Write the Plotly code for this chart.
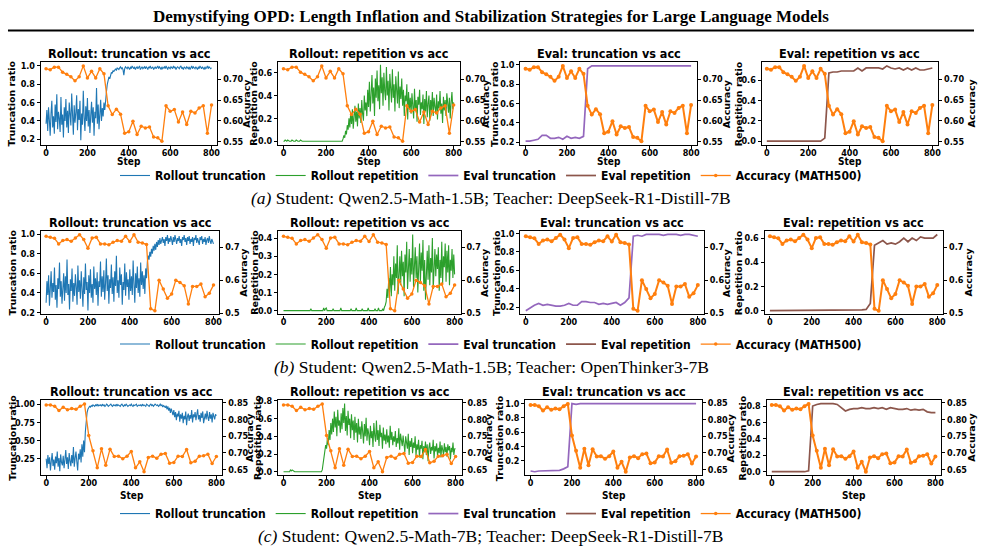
import plotly.graph_objects as go

# ---------------- data ----------------
steps_rollout = list(range(0, 801, 4))
steps_eval = list(range(0, 801, 20))

# (a) Student: Qwen2.5-Math-1.5B; Teacher: DeepSeek-R1-Distill-7B
rollout_trunc_a = [
    0.37, 0.52, 0.29, 0.55, 0.41, 0.24, 0.48, 0.62, 0.33, 0.45,
    0.26, 0.58, 0.39, 0.69, 0.31, 0.50, 0.43, 0.28, 0.66, 0.36,
    0.47, 0.22, 0.55, 0.40, 0.64, 0.33, 0.51, 0.27, 0.60, 0.44,
    0.35, 0.70, 0.42, 0.25, 0.57, 0.38, 0.49, 0.68, 0.30, 0.53,
    0.41, 0.62, 0.19, 0.48, 0.36, 0.73, 0.44, 0.29, 0.56, 0.40,
    0.65, 0.34, 0.52, 0.27, 0.46, 0.61, 0.38, 0.55, 0.24, 0.50,
    0.43, 0.76, 0.37, 0.58, 0.31, 0.49, 0.63, 0.40, 0.54, 0.45,
    0.60, 0.52, 0.66, 0.72, 0.80, 0.84, 0.88, 0.86, 0.91, 0.93,
    0.92, 0.95, 0.94, 0.96, 0.97, 0.95, 0.98, 0.97, 0.96, 0.98,
    0.99, 0.97, 0.98, 0.96, 0.90, 0.97, 0.99, 0.98, 0.97, 0.99,
    0.98, 0.96, 0.99, 0.97, 1.00, 0.98, 0.97, 0.99, 0.96, 0.98,
    0.99, 0.97, 0.98, 1.00, 0.96, 0.98, 0.99, 0.97, 0.98, 0.99,
    0.97, 0.99, 0.98, 0.96, 0.99, 0.98, 1.00, 0.97, 0.98, 0.99,
    0.96, 0.98, 0.99, 0.97, 0.98, 1.00, 0.97, 0.99, 0.98, 0.96,
    0.99, 0.97, 0.98, 0.99, 0.97, 1.00, 0.98, 0.96, 0.99, 0.98,
    0.97, 0.99, 0.98, 0.97, 1.00, 0.98, 0.99, 0.96, 0.98, 0.99,
    0.98, 0.97, 0.99, 1.00, 0.97, 0.98, 0.96, 0.99, 0.98, 0.97,
    0.99, 0.98, 0.97, 0.99, 0.96, 0.98, 1.00, 0.97, 0.99, 0.98,
    0.97, 0.99, 0.98, 0.96, 0.99, 0.97, 1.00, 0.98, 0.97, 0.99,
    0.98, 0.96, 0.99, 0.97, 0.98, 1.00, 0.97, 0.99, 0.98, 0.97,
    0.98]
rollout_rep_a = [
    0.0, 0.0, 0.01, 0.0, 0.0, 0.01, 0.0, 0.0, 0.0, 0.0,
    0.01, 0.0, 0.0, 0.0, 0.0, 0.01, 0.0, 0.0, 0.0, 0.0,
    0.01, 0.0, 0.0, 0.0, 0.0, 0.0, 0.0, 0.0, 0.0, 0.0,
    0.0, 0.0, 0.0, 0.0, 0.0, 0.0, 0.0, 0.0, 0.0, 0.0,
    0.0, 0.0, 0.0, 0.0, 0.0, 0.0, 0.0, 0.0, 0.0, 0.0,
    0.0, 0.0, 0.0, 0.0, 0.0, 0.0, 0.0, 0.0, 0.0, 0.0,
    0.0, 0.0, 0.0, 0.0, 0.0, 0.0, 0.0, 0.0, 0.0, 0.0,
    0.02, 0.05, 0.03, 0.09, 0.06, 0.14, 0.10, 0.20, 0.12, 0.25,
    0.15, 0.28, 0.11, 0.22, 0.31, 0.17, 0.26, 0.13, 0.33, 0.20,
    0.29, 0.16, 0.36, 0.24, 0.18, 0.40, 0.27, 0.34, 0.22, 0.45,
    0.30, 0.52, 0.26, 0.41, 0.58, 0.33, 0.47, 0.22, 0.55, 0.38,
    0.62, 0.35, 0.49, 0.28, 0.67, 0.42, 0.56, 0.31, 0.60, 0.44,
    0.36, 0.65, 0.40, 0.53, 0.27, 0.59, 0.45, 0.34, 0.63, 0.38,
    0.50, 0.26, 0.57, 0.41, 0.33, 0.61, 0.29, 0.48, 0.37, 0.55,
    0.31, 0.45, 0.22, 0.40, 0.35, 0.50, 0.19, 0.43, 0.28, 0.38,
    0.24, 0.42, 0.30, 0.20, 0.46, 0.27, 0.36, 0.17, 0.39, 0.32,
    0.45, 0.23, 0.34, 0.28, 0.41, 0.15, 0.37, 0.26, 0.44, 0.21,
    0.33, 0.40, 0.18, 0.36, 0.27, 0.43, 0.22, 0.38, 0.30, 0.25,
    0.41, 0.19, 0.35, 0.29, 0.44, 0.24, 0.33, 0.16, 0.39, 0.27,
    0.36, 0.22, 0.42, 0.30, 0.25, 0.38, 0.20, 0.34, 0.43, 0.28,
    0.34]
eval_trunc_a = [
    0.21, 0.21, 0.22, 0.23, 0.27, 0.27, 0.24, 0.24, 0.25, 0.23,
    0.26, 0.24, 0.25, 0.24, 0.26, 0.96, 0.99, 0.99, 0.99, 0.99,
    0.99, 0.99, 0.99, 0.99, 0.99, 0.99, 0.99, 0.99, 0.99, 0.99,
    0.99, 0.99, 0.99, 0.99, 0.99, 0.99, 0.99, 0.99, 0.99, 0.99,
    0.99]
eval_rep_a = [
    0.0, 0.0, 0.0, 0.002, 0.002, 0.002, 0.001, 0.0, 0.0, 0.0,
    0.0, 0.0, 0.0, 0.0, 0.03, 0.67, 0.68, 0.68, 0.69, 0.69,
    0.69, 0.69, 0.72, 0.69, 0.72, 0.72, 0.72, 0.72, 0.71, 0.74,
    0.72, 0.71, 0.72, 0.70, 0.72, 0.70, 0.72, 0.70, 0.70, 0.71,
    0.72]
acc_a = [
    0.725, 0.723, 0.729, 0.729, 0.717, 0.712, 0.706, 0.696, 0.706, 0.732,
    0.703, 0.719, 0.703, 0.725, 0.713, 0.636, 0.615, 0.628, 0.616, 0.570,
    0.574, 0.599, 0.567, 0.587, 0.583, 0.585, 0.561, 0.559, 0.551, 0.636,
    0.623, 0.627, 0.597, 0.621, 0.591, 0.623, 0.619, 0.631, 0.636, 0.570,
    0.638]

# (b) Student: Qwen2.5-Math-1.5B; Teacher: OpenThinker3-7B
rollout_trunc_b = [
    0.30, 0.52, 0.38, 0.58, 0.27, 0.46, 0.62, 0.35, 0.50, 0.41,
    0.66, 0.33, 0.48, 0.25, 0.55, 0.44, 0.71, 0.36, 0.52, 0.29,
    0.45, 0.60, 0.32, 0.57, 0.40, 0.74, 0.38, 0.49, 0.23, 0.54,
    0.42, 0.65, 0.31, 0.50, 0.37, 0.59, 0.46, 0.28, 0.68, 0.41,
    0.53, 0.34, 0.62, 0.45, 0.26, 0.56, 0.39, 0.70, 0.43, 0.51,
    0.22, 0.58, 0.40, 0.64, 0.35, 0.49, 0.30, 0.67, 0.44, 0.55,
    0.38, 0.61, 0.27, 0.52, 0.46, 0.72, 0.36, 0.57, 0.41, 0.63,
    0.33, 0.50, 0.75, 0.42, 0.58, 0.29, 0.54, 0.45, 0.69, 0.39,
    0.56, 0.31, 0.62, 0.47, 0.78, 0.40, 0.53, 0.35, 0.66, 0.48,
    0.59, 0.28, 0.51, 0.43, 0.70, 0.37, 0.61, 0.46, 0.54, 0.33,
    0.64, 0.42, 0.57, 0.38, 0.73, 0.49, 0.30, 0.60, 0.45, 0.67,
    0.40, 0.55, 0.36, 0.71, 0.48, 0.62, 0.44, 0.58, 0.39, 0.65,
    0.55, 0.72, 0.78, 0.74, 0.82, 0.77, 0.85, 0.80, 0.88, 0.83,
    0.90, 0.84, 0.92, 0.87, 0.94, 0.89, 0.96, 0.90, 0.93, 0.97,
    0.91, 0.95, 0.88, 0.97, 0.93, 0.99, 0.90, 0.96, 0.92, 0.98,
    0.94, 0.89, 0.97, 0.92, 0.99, 0.95, 0.90, 0.96, 0.93, 0.98,
    0.91, 0.95, 0.88, 0.97, 0.94, 0.99, 0.92, 0.96, 0.89, 0.97,
    0.93, 0.98, 0.90, 0.95, 0.92, 0.97, 0.88, 0.96, 0.94, 0.99,
    0.91, 0.96, 0.93, 0.89, 0.97, 0.94, 0.98, 0.90, 0.95, 0.92,
    0.97, 0.89, 0.94, 0.96, 0.91, 0.98, 0.93, 0.90, 0.95, 0.92,
    0.90]
rollout_rep_b = [
    0.0, 0.0, 0.0, 0.0, 0.0, 0.0, 0.0, 0.0, 0.0, 0.0,
    0.0, 0.0, 0.0, 0.0, 0.0, 0.0, 0.0, 0.0, 0.0, 0.0,
    0.0, 0.0, 0.0, 0.0, 0.0, 0.0, 0.0, 0.0, 0.0, 0.0,
    0.0, 0.0, 0.01, 0.0, 0.0, 0.0, 0.0, 0.0, 0.0, 0.0,
    0.0, 0.0, 0.0, 0.0, 0.0, 0.0, 0.0, 0.015, 0.0, 0.01,
    0.015, 0.0, 0.0, 0.0, 0.0, 0.0, 0.0, 0.0, 0.01, 0.0,
    0.0, 0.0, 0.0, 0.0, 0.0, 0.0, 0.0, 0.015, 0.0, 0.0,
    0.0, 0.0, 0.0, 0.0, 0.0, 0.0, 0.0, 0.0, 0.0, 0.01,
    0.0, 0.0, 0.0, 0.0, 0.0, 0.015, 0.0, 0.0, 0.0, 0.0,
    0.0, 0.0, 0.01, 0.0, 0.0, 0.0, 0.0, 0.0, 0.0, 0.015,
    0.0, 0.0, 0.0, 0.0, 0.0, 0.0, 0.0, 0.01, 0.0, 0.0,
    0.0, 0.015, 0.0, 0.0, 0.0, 0.0, 0.01, 0.0, 0.02, 0.03,
    0.05, 0.12, 0.07, 0.18, 0.10, 0.24, 0.08, 0.20, 0.14, 0.30,
    0.11, 0.26, 0.18, 0.36, 0.09, 0.22, 0.30, 0.14, 0.33, 0.19,
    0.27, 0.08, 0.31, 0.21, 0.38, 0.12, 0.25, 0.34, 0.16, 0.29,
    0.20, 0.42, 0.13, 0.27, 0.35, 0.18, 0.30, 0.10, 0.26, 0.37,
    0.15, 0.32, 0.22, 0.39, 0.11, 0.28, 0.06, 0.24, 0.33, 0.17,
    0.36, 0.14, 0.29, 0.21, 0.40, 0.12, 0.27, 0.34, 0.19, 0.31,
    0.23, 0.35, 0.11, 0.28, 0.18, 0.38, 0.15, 0.30, 0.24, 0.37,
    0.16, 0.33, 0.21, 0.36, 0.14, 0.28, 0.22, 0.34, 0.18, 0.31,
    0.20]
eval_trunc_b = [
    0.16, 0.19, 0.22, 0.24, 0.22, 0.23, 0.22, 0.21, 0.21, 0.22,
    0.24, 0.22, 0.22, 0.26, 0.26, 0.25, 0.25, 0.23, 0.24, 0.23,
    0.24, 0.25, 0.22, 0.25, 0.30, 0.97, 0.98, 0.97, 0.99, 0.99,
    0.99, 0.99, 0.98, 0.99, 0.99, 0.99, 0.98, 0.99, 0.99, 0.98,
    0.97]
eval_rep_b = [
    0.0, 0.0, 0.002, 0.004, 0.004, 0.006, 0.004, 0.002, 0.002, 0.002,
    0.004, 0.004, 0.004, 0.002, 0.002, 0.002, 0.004, 0.004, 0.004, 0.006,
    0.004, 0.004, 0.006, 0.01, 0.06, 0.54, 0.56, 0.58, 0.55, 0.56,
    0.55, 0.57, 0.60, 0.57, 0.60, 0.58, 0.61, 0.60, 0.60, 0.60,
    0.63]
acc_b = [
    0.733, 0.730, 0.727, 0.710, 0.720, 0.723, 0.718, 0.728, 0.738, 0.723,
    0.697, 0.728, 0.730, 0.710, 0.710, 0.707, 0.715, 0.720, 0.718, 0.733,
    0.717, 0.738, 0.715, 0.713, 0.708, 0.513, 0.507, 0.600, 0.573, 0.545,
    0.558, 0.600, 0.593, 0.583, 0.528, 0.581, 0.581, 0.588, 0.550, 0.560,
    0.585]

# (c) Student: Qwen2.5-Math-7B; Teacher: DeepSeek-R1-Distill-7B
rollout_trunc_c = [
    0.25, 0.12, 0.30, 0.18, 0.27, 0.09, 0.22, 0.33, 0.15, 0.24,
    0.10, 0.28, 0.19, 0.35, 0.14, 0.26, 0.08, 0.31, 0.20, 0.16,
    0.29, 0.12, 0.24, 0.37, 0.18, 0.27, 0.11, 0.33, 0.22, 0.15,
    0.30, 0.19, 0.41, 0.14, 0.26, 0.35, 0.21, 0.09, 0.32, 0.24,
    0.38, 0.20, 0.45, 0.28, 0.50, 0.34, 0.62, 0.78, 0.88, 0.93,
    0.95, 0.97, 0.96, 0.98, 0.97, 0.99, 0.98, 0.97, 0.99, 0.98,
    1.00, 0.97, 0.99, 0.98, 0.99, 0.97, 1.00, 0.98, 0.99, 0.97,
    0.98, 1.00, 0.99, 0.97, 0.98, 0.99, 1.00, 0.98, 0.97, 0.99,
    0.98, 0.99, 0.97, 1.00, 0.98, 0.99, 0.98, 0.97, 0.99, 1.00,
    0.98, 0.97, 0.99, 0.98, 1.00, 0.99, 0.97, 0.98, 0.99, 0.98,
    1.00, 0.98, 0.97, 0.99, 0.98, 0.99, 1.00, 0.97, 0.98, 0.99,
    0.98, 0.99, 0.97, 1.00, 0.98, 0.99, 0.98, 0.97, 1.00, 0.99,
    0.98, 0.97, 0.99, 1.00, 0.98, 0.99, 0.97, 0.98, 1.00, 0.99,
    0.98, 0.99, 0.97, 0.98, 1.00, 0.98, 0.99, 0.96, 0.98, 0.97,
    0.95, 0.98, 0.93, 0.97, 0.91, 0.95, 0.88, 0.94, 0.90, 0.85,
    0.92, 0.82, 0.89, 0.78, 0.87, 0.83, 0.91, 0.76, 0.86, 0.80,
    0.88, 0.74, 0.84, 0.79, 0.90, 0.71, 0.83, 0.87, 0.77, 0.85,
    0.80, 0.92, 0.75, 0.86, 0.82, 0.89, 0.78, 0.84, 0.93, 0.79,
    0.85, 0.76, 0.88, 0.81, 0.90, 0.74, 0.84, 0.87, 0.79, 0.91,
    0.82, 0.77, 0.89, 0.80, 0.86, 0.75, 0.88, 0.83, 0.79, 0.86,
    0.84]
rollout_rep_c = [
    0.0, 0.0, 0.0, 0.0, 0.0, 0.0, 0.0, 0.0, 0.02, 0.01,
    0.02, 0.01, 0.0, 0.0, 0.0, 0.0, 0.0, 0.0, 0.0, 0.0,
    0.0, 0.0, 0.0, 0.0, 0.0, 0.0, 0.0, 0.0, 0.0, 0.0,
    0.0, 0.0, 0.0, 0.0, 0.0, 0.0, 0.0, 0.0, 0.0, 0.0,
    0.0, 0.0, 0.0, 0.0, 0.0, 0.02, 0.08, 0.14, 0.22, 0.30,
    0.26, 0.38, 0.30, 0.47, 0.36, 0.55, 0.42, 0.60, 0.45, 0.68,
    0.50, 0.62, 0.40, 0.70, 0.52, 0.58, 0.44, 0.66, 0.48, 0.72,
    0.55, 0.77, 0.46, 0.63, 0.41, 0.69, 0.53, 0.60, 0.38, 0.65,
    0.47, 0.58, 0.36, 0.62, 0.44, 0.55, 0.33, 0.60, 0.42, 0.51,
    0.37, 0.57, 0.45, 0.32, 0.54, 0.40, 0.61, 0.35, 0.49, 0.43,
    0.30, 0.52, 0.38, 0.46, 0.28, 0.55, 0.41, 0.34, 0.58, 0.36,
    0.47, 0.29, 0.53, 0.39, 0.44, 0.26, 0.50, 0.35, 0.42, 0.31,
    0.48, 0.33, 0.41, 0.27, 0.52, 0.36, 0.45, 0.30, 0.40, 0.34,
    0.46, 0.28, 0.38, 0.32, 0.49, 0.25, 0.43, 0.35, 0.29, 0.41,
    0.34, 0.22, 0.40, 0.30, 0.26, 0.43, 0.19, 0.35, 0.28, 0.38,
    0.21, 0.33, 0.27, 0.40, 0.18, 0.31, 0.25, 0.36, 0.16, 0.30,
    0.26, 0.35, 0.14, 0.29, 0.22, 0.34, 0.19, 0.31, 0.12, 0.27,
    0.33, 0.20, 0.28, 0.24, 0.36, 0.15, 0.29, 0.23, 0.32, 0.18,
    0.27, 0.21, 0.34, 0.16, 0.30, 0.25, 0.19, 0.32, 0.22, 0.28,
    0.17, 0.31, 0.24, 0.29, 0.14, 0.27, 0.22, 0.33, 0.19, 0.26,
    0.26]
eval_trunc_c = [
    0.06, 0.05, 0.06, 0.06, 0.07, 0.06, 0.07, 0.07, 0.09, 0.12,
    1.00, 0.99, 1.00, 1.00, 0.99, 1.00, 1.00, 1.00, 0.99, 1.00,
    1.00, 1.00, 0.99, 1.00, 1.00, 1.00, 1.00, 0.99, 1.00, 1.00,
    1.00, 1.00, 1.00, 0.99, 1.00, 1.00, 1.00, 1.00, 1.00, 0.99,
    1.00]
eval_rep_c = [
    0.0, 0.0, 0.0, 0.0, 0.0, 0.0, 0.0, 0.0, 0.0, 0.01,
    0.80, 0.82, 0.83, 0.83, 0.83, 0.83, 0.82, 0.78, 0.74, 0.76,
    0.77, 0.77, 0.78, 0.77, 0.77, 0.78, 0.77, 0.78, 0.76, 0.78,
    0.77, 0.76, 0.76, 0.77, 0.75, 0.76, 0.75, 0.76, 0.73, 0.72,
    0.72]
acc_c = [
    0.844, 0.844, 0.840, 0.827, 0.837, 0.829, 0.833, 0.831, 0.840, 0.847,
    0.752, 0.706, 0.655, 0.712, 0.663, 0.711, 0.689, 0.690, 0.682, 0.690,
    0.704, 0.655, 0.673, 0.643, 0.686, 0.690, 0.684, 0.696, 0.698, 0.669,
    0.671, 0.690, 0.689, 0.710, 0.670, 0.675, 0.690, 0.691, 0.696, 0.668,
    0.689]

# tick values
ticks_step = [0, 200, 400, 600, 800]
ticks_trunc = [0.2, 0.4, 0.6, 0.8, 1.0]
ticks_trunc_c = [0.25, 0.50, 0.75, 1.00]
ticks_rep_06 = [0.0, 0.2, 0.4, 0.6]
ticks_rep_04 = [0.0, 0.1, 0.2, 0.3, 0.4]
ticks_rep_08 = [0.0, 0.2, 0.4, 0.6, 0.8]
ticks_acc_a = [0.55, 0.60, 0.65, 0.70]
ticks_acc_b = [0.5, 0.6, 0.7]
ticks_acc_c = [0.65, 0.70, 0.75, 0.80, 0.85]

# texts
TITLE = "Demystifying OPD: Length Inflation and Stabilization Strategies for Large Language Models"
CAPTIONS = [
    ("(a)", "Student: Qwen2.5-Math-1.5B; Teacher: DeepSeek-R1-Distill-7B"),
    ("(b)", "Student: Qwen2.5-Math-1.5B; Teacher: OpenThinker3-7B"),
    ("(c)", "Student: Qwen2.5-Math-7B; Teacher: DeepSeek-R1-Distill-7B"),
]
PANEL_TITLES = ["Rollout: truncation vs acc", "Rollout: repetition vs acc",
                "Eval: truncation vs acc", "Eval: repetition vs acc"]
SERIES_NAMES = ["Rollout truncation", "Rollout repetition", "Eval truncation", "Eval repetition"]
ACC_NAME = "Accuracy (MATH500)"
LEFT_TITLES = ["Truncation ratio", "Repetition ratio", "Truncation ratio", "Repetition ratio"]
RIGHT_TITLE = "Accuracy"
X_TITLE = "Step"

# ---------------- styling / layout ----------------
COLORS = ["#1f77b4", "#2ca02c", "#9467bd", "#8c564b"]
ORANGE = "#ff7f0e"
W, H = 985, 556
SANS = "DejaVu Sans Condensed, DejaVu Sans, sans-serif"
SANS_N = "DejaVu Sans, sans-serif"
SERIF = "Liberation Serif, Times New Roman, serif"


def px(x):
    return x / W


def py(y):
    return 1 - y / H


ROWS = [
    dict(top=59, bot=143, cols=[(41, 218), (279, 461), (522, 699), (764, 941)],
         legend_y=174, caption_y=197, step_off=17,
         series=[rollout_trunc_a, rollout_rep_a, eval_trunc_a, eval_rep_a], acc=acc_a,
         left_ranges=[(0.139, 1.041), (-0.033, 0.693), (0.171, 1.029), (-0.037, 0.777)],
         left_ticks=[ticks_trunc, ticks_rep_06, ticks_trunc, ticks_rep_06],
         left_fmt=[".1f", ".1f", ".1f", ".1f"],
         right_range=(0.542, 0.741), right_ticks=ticks_acc_a, right_fmt=".2f",
         lt_off=[29, 25, 26, 23], rt_off=[29, 26, 30, 34]),
    dict(top=230, bot=315, cols=[(41, 220), (279, 462), (522, 706), (767, 946)],
         legend_y=345, caption_y=368, step_off=None,
         series=[rollout_trunc_b, rollout_rep_b, eval_trunc_b, eval_rep_b], acc=acc_b,
         left_ranges=[(0.18, 1.035), (-0.021, 0.441), (0.12, 1.03), (-0.0315, 0.6615)],
         left_ticks=[ticks_trunc, ticks_rep_04, ticks_trunc, ticks_rep_06],
         left_fmt=[".1f", ".1f", ".1f", ".1f"],
         right_range=(0.496, 0.750), right_ticks=ticks_acc_b, right_fmt=".1f",
         lt_off=[28, 24, 24, 26], rt_off=[24, 24, 23, 26]),
    dict(top=402, bot=478, cols=[(41, 223), (279, 463), (527, 704), (769, 944)],
         legend_y=517, caption_y=540, step_off=21,
         series=[rollout_trunc_c, rollout_rep_c, eval_trunc_c, eval_rep_c], acc=acc_c,
         left_ranges=[(0.026, 1.054), (-0.0385, 0.8085), (0.0025, 1.0475), (-0.0415, 0.8715)],
         left_ticks=[ticks_trunc_c, ticks_rep_08, ticks_trunc, ticks_rep_08],
         left_fmt=[".2f", ".1f", ".1f", ".1f"],
         right_range=(0.633, 0.858), right_ticks=ticks_acc_c, right_fmt=".2f",
         lt_off=[28, 21, 26, 24], rt_off=[27, 27, 29, 31]),
]

TICKFONT = dict(family=SANS, size=9, color="black", weight="bold")
AXIS_COMMON = dict(ticks="outside", ticklen=3, tickwidth=1, tickcolor="black",
                   showline=True, linecolor="black", linewidth=1.2,
                   showgrid=False, zeroline=False, tickfont=TICKFONT)

fig = go.Figure()
layout = {}
annotations = []
acc_traces = []

for r, row in enumerate(ROWS):
    legend_id = "legend" if r == 0 else f"legend{r + 1}"
    for c in range(4):
        k = r * 4 + c
        xname = "x" if k == 0 else f"x{k + 1}"
        xkey = "xaxis" if k == 0 else f"xaxis{k + 1}"
        yl, yr = 2 * k + 1, 2 * k + 2
        ylname = "y" if yl == 1 else f"y{yl}"
        ylkey = "yaxis" if yl == 1 else f"yaxis{yl}"
        yrname = f"y{yr}"
        yrkey = f"yaxis{yr}"
        x0, x1 = row["cols"][c]
        rollout = c < 2

        fig.add_trace(go.Scatter(
            x=steps_rollout if rollout else steps_eval, y=row["series"][c],
            mode="lines", name=SERIES_NAMES[c],
            line=dict(color=COLORS[c], width=1.1 if rollout else 1.7),
            xaxis=xname, yaxis=ylname,
            legend=legend_id, showlegend=True, hoverinfo="skip"))
        acc_traces.append(go.Scatter(
            x=steps_eval, y=row["acc"], mode="lines+markers", name=ACC_NAME,
            line=dict(color=ORANGE, width=1.3 if rollout else 2.0),
            marker=dict(color=ORANGE, size=3.5 if rollout else 4),
            xaxis=xname, yaxis=yrname, legend=legend_id,
            showlegend=(c == 0), hoverinfo="skip"))

        layout[xkey] = dict(AXIS_COMMON, domain=[px(x0), px(x1)], range=[-25, 828],
                            anchor=ylname, tickmode="array", tickvals=ticks_step,
                            mirror=True, ticklabelstandoff=-4)
        layout[ylkey] = dict(AXIS_COMMON, domain=[py(row["bot"]), py(row["top"])],
                             range=list(row["left_ranges"][c]), anchor=xname,
                             tickmode="array", tickvals=row["left_ticks"][c],
                             tickformat=row["left_fmt"][c])
        layout[yrkey] = dict(AXIS_COMMON, overlaying=ylname, side="right", anchor=xname,
                             range=list(row["right_range"]), tickmode="array",
                             tickvals=row["right_ticks"], tickformat=row["right_fmt"])

        ymid = py((row["top"] + row["bot"]) / 2)
        # panel title
        annotations.append(dict(text=PANEL_TITLES[c], x=px((x0 + x1) / 2), y=py(row["top"]),
                                xref="paper", yref="paper", xanchor="center", yanchor="bottom",
                                yshift=-1, showarrow=False,
                                font=dict(family=SANS, size=12.5, color="black", weight="bold")))
        # y titles
        annotations.append(dict(text=LEFT_TITLES[c], x=px(x0 - row["lt_off"][c]), y=ymid,
                                xref="paper", yref="paper", xanchor="center", yanchor="middle",
                                textangle=-90, showarrow=False,
                                font=dict(family=SANS_N, size=9.5, color="black", weight="bold")))
        annotations.append(dict(text=RIGHT_TITLE, x=px(x1 + row["rt_off"][c]), y=ymid,
                                xref="paper", yref="paper", xanchor="center", yanchor="middle",
                                textangle=-90, showarrow=False,
                                font=dict(family=SANS_N, size=9.5, color="black", weight="bold")))
        if row["step_off"] is not None:
            annotations.append(dict(text=X_TITLE, x=px((x0 + x1) / 2),
                                    y=py(row["bot"] + row["step_off"]),
                                    xref="paper", yref="paper", xanchor="center",
                                    yanchor="middle", showarrow=False,
                                    font=dict(family=SANS, size=10, color="black",
                                              weight="bold")))

    # legend of the row
    layout[legend_id] = dict(orientation="h", x=0.5, xanchor="center",
                             y=py(row["legend_y"]), yanchor="middle",
                             font=dict(family=SANS, size=12, color="black", weight="bold"),
                             bgcolor="rgba(0,0,0,0)", itemwidth=30, tracegroupgap=0,
                             traceorder="normal")
    # caption
    tag, cap = CAPTIONS[r]
    annotations.append(dict(text=f"<i>{tag}</i> {cap}", x=0.5, y=py(row["caption_y"]),
                            xref="paper", yref="paper", xanchor="center", yanchor="middle",
                            showarrow=False,
                            font=dict(family=SERIF, size=17.5, color="black")))

for t in acc_traces:
    fig.add_trace(t)

annotations.append(dict(text=f"<b>{TITLE}</b>", x=0.5, y=py(13), xref="paper", yref="paper",
                        xanchor="center", yanchor="middle", showarrow=False,
                        font=dict(family=SERIF, size=17, color="black")))

fig.update_layout(**layout)
fig.update_layout(
    width=W, height=H, autosize=False,
    margin=dict(l=0, r=0, t=0, b=0),
    paper_bgcolor="white", plot_bgcolor="white",
    annotations=annotations,
    shapes=[dict(type="line", xref="paper", yref="paper", x0=px(8), x1=px(977),
                 y0=py(27), y1=py(27), line=dict(color="black", width=2))],
)

fig.write_html("out.html")
